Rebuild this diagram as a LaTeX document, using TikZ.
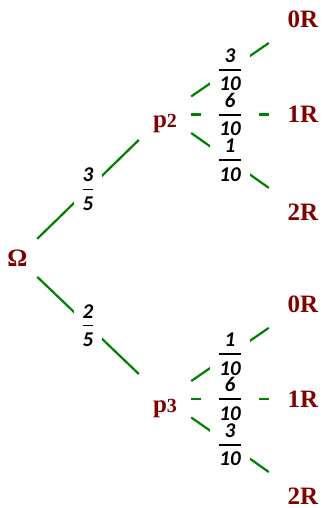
\documentclass[tikz,border=0pt]{standalone}
\usepackage{fontspec}
\setmainfont{Liberation Serif}
\newfontfamily\labfont{Carlito}
\definecolor{nodered}{RGB}{128,0,0}
\definecolor{branchgreen}{RGB}{0,128,0}
\newcommand\fr[2]{\vbox{\halign{\hfil##\hfil\cr#1\cr\noalign{\kern6.5pt\hrule height1.8pt\kern6.5pt}#2\cr}}}
\begin{document}
\begin{tikzpicture}[x=1pt,y=-1pt,
  tnode/.style={text=nodered, font=\bfseries\fontsize{25}{25}\selectfont, inner sep=0pt},
  omeganode/.style={tnode, minimum width=39pt, minimum height=42pt},
  pnode/.style={tnode, minimum width=52pt, minimum height=54pt, text height=26pt, text depth=0pt},
  rnode/.style={tnode, minimum width=68pt, minimum height=50pt, text depth=0pt},
  branch/.style={draw=branchgreen, line width=2.2pt},
  lbl/.style={fill=white, text=black, font=\labfont\bfseries\itshape\fontsize{21}{21}\selectfont, inner xsep=9pt, inner ysep=0.5pt},
  wlbl/.style={lbl, inner xsep=18pt}]
\useasboundingbox (0,0) rectangle (323,508);
\node[omeganode] (O) at (17.5,258) {Ω};
\node[pnode] (p2) at (165,114.5) {p{\fontsize{20}{20}\selectfont 2}};
\node[pnode] (p3) at (165,399) {p{\fontsize{20}{20}\selectfont 3}};
\node[rnode] (a0) at (303,19.5) {0R};
\node[rnode] (a1) at (303,114.5) {1R};
\node[rnode] (a2) at (303,212) {2R};
\node[rnode] (b0) at (303,304.5) {0R};
\node[rnode] (b1) at (303,399) {1R};
\node[rnode] (b2) at (303,496) {2R};
\draw[branch] (O) -- node[lbl]{\fr{3}{5}} (p2);
\draw[branch] (O) -- node[lbl]{\fr{2}{5}} (p3);
\draw[branch] (p2) -- node[lbl]{\fr{3}{10}} (a0);
\draw[branch] (p2) -- node[wlbl]{\fr{6}{10}} (a1);
\draw[branch] (p2) -- node[lbl]{\fr{1}{10}} (a2);
\draw[branch] (p3) -- node[lbl]{\fr{1}{10}} (b0);
\draw[branch] (p3) -- node[wlbl]{\fr{6}{10}} (b1);
\draw[branch] (p3) -- node[lbl]{\fr{3}{10}} (b2);
\end{tikzpicture}
\end{document}
